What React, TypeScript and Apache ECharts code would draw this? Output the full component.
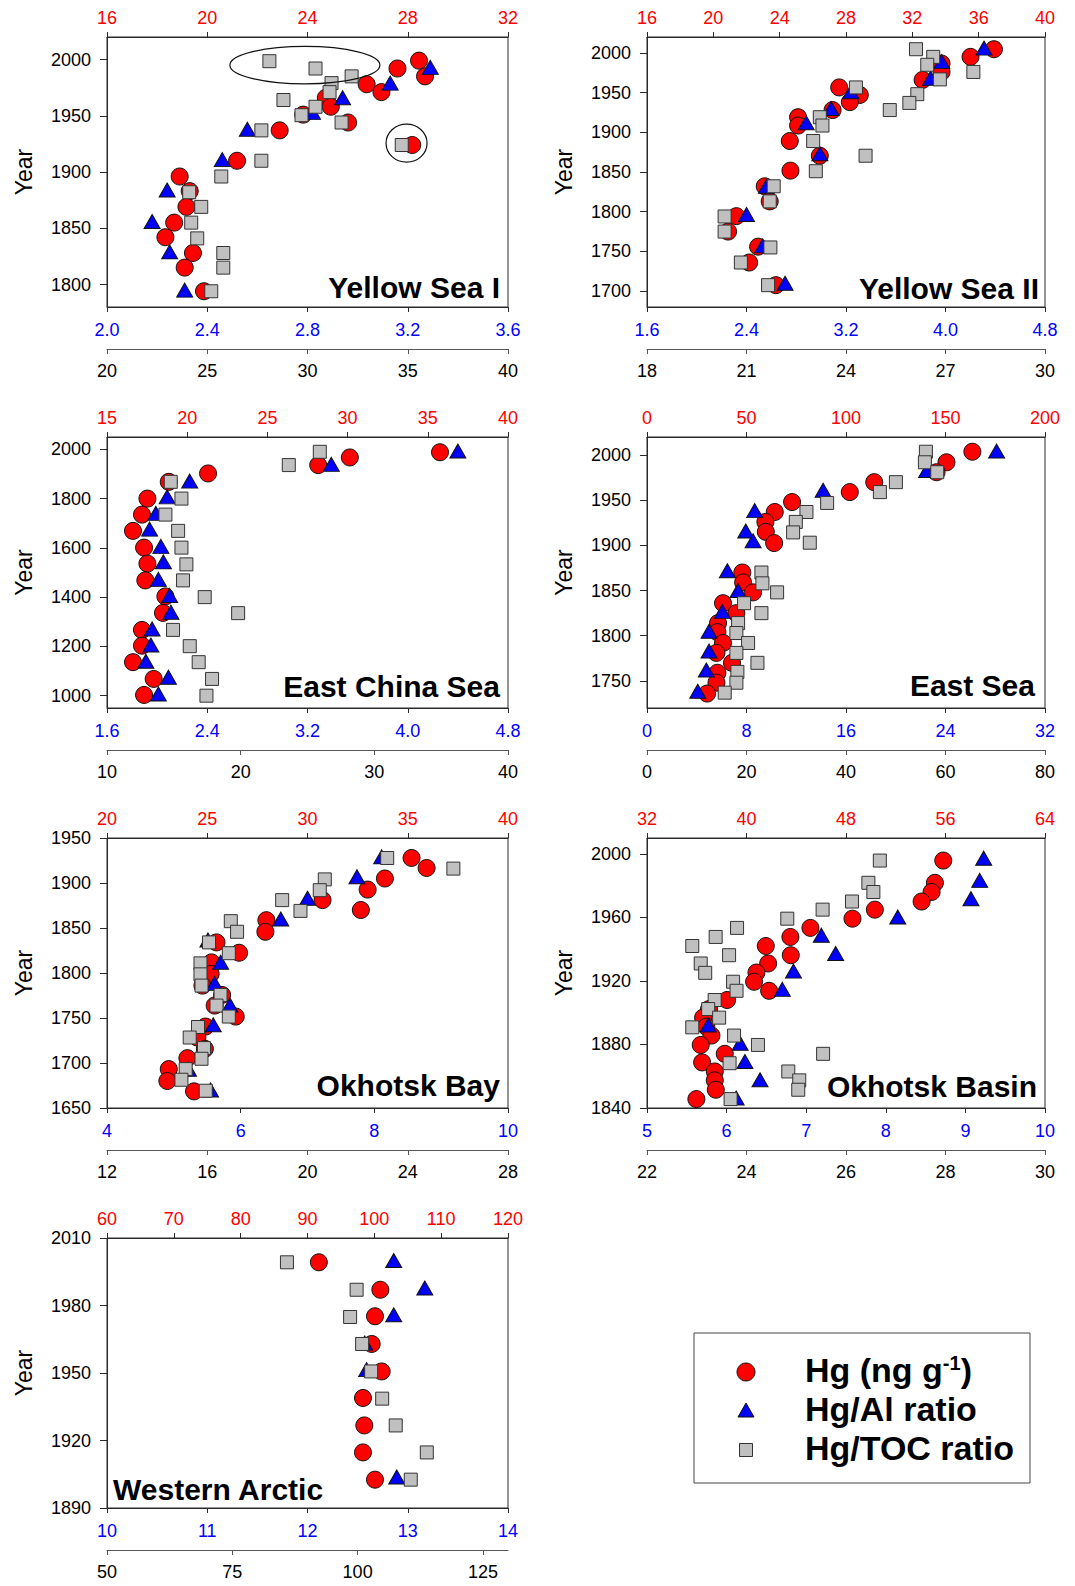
import React, { useEffect, useRef } from "react";
import * as echarts from "echarts";

const FONT = '"Liberation Sans", Arial, Helvetica, sans-serif';
const RED = "#ff0000";
const BLUE = "#0000ff";
const GRAY = "#c0c0c0";
const AXIS_COLOR = "#2a2a2a";

// ---------- Panel names ----------
const PANEL_NAMES = [
  "Yellow Sea I",
  "Yellow Sea II",
  "East China Sea",
  "East Sea",
  "Okhotsk Bay",
  "Okhotsk Basin",
  "Western Arctic",
];

// ---------- Axis ranges [min, max, step] ----------
const HG_RANGE = [[16, 32, 4], [16, 40, 4], [15, 40, 5], [0, 200, 50], [20, 40, 5], [32, 64, 8], [60, 120, 10]];
const AL_RANGE = [[2.0, 3.6, 0.4], [1.6, 4.8, 0.8], [1.6, 4.8, 0.8], [0, 32, 8], [4, 10, 2], [5, 10, 1], [10, 14, 1]];
const AL_DECIMALS = [1, 1, 1, 0, 0, 0, 0];
const TOC_RANGE = [[20, 40, 5], [18, 30, 3], [10, 40, 10], [0, 80, 20], [12, 28, 4], [22, 30, 2], [50, 130, 25]];
const YEAR_RANGE = [[1780, 2020], [1680, 2020], [950, 2050], [1720, 2020], [1650, 1950], [1840, 2010], [1890, 2010]];
const YEAR_TICKS = [
  [1800, 1850, 1900, 1950, 2000],
  [1700, 1750, 1800, 1850, 1900, 1950, 2000],
  [1000, 1200, 1400, 1600, 1800, 2000],
  [1750, 1800, 1850, 1900, 1950, 2000],
  [1650, 1700, 1750, 1800, 1850, 1900, 1950],
  [1840, 1880, 1920, 1960, 2000],
  [1890, 1920, 1950, 1980, 2010],
];

// ---------- Data: [value, year] ----------
const ys1Hg = [[28.45, 1999], [28.69, 1985], [27.59, 1992], [26.36, 1978], [26.95, 1971], [24.73, 1966], [24.93, 1958], [23.83, 1951], [25.62, 1944], [22.89, 1937], [28.18, 1924], [21.19, 1910], [18.9, 1896], [19.3, 1883], [19.17, 1869], [18.68, 1855], [18.33, 1842], [19.43, 1828], [19.1, 1815], [19.87, 1794]];
const ys1Al = [[3.29, 1993], [3.13, 1979], [2.94, 1966], [2.82, 1953], [2.56, 1938], [2.46, 1911], [2.24, 1884], [2.18, 1856], [2.25, 1829], [2.31, 1795]];
const ys1Toc = [[28.1, 1998.5], [30.4, 1992], [32.2, 1985], [31.2, 1979], [31.1, 1971], [28.8, 1964], [30.4, 1958], [29.7, 1950.5], [31.7, 1944], [27.7, 1937], [34.7, 1924], [27.7, 1910], [25.7, 1896], [24.1, 1882], [24.7, 1869], [24.2, 1855], [24.5, 1841], [25.8, 1828], [25.8, 1815], [25.2, 1794]];

const ys2Hg = [[36.92, 2004.6], [35.51, 1995], [33.76, 1986.6], [33.76, 1976], [32.62, 1966], [27.59, 1956.5], [28.83, 1947], [28.23, 1938], [27.19, 1928], [25.11, 1919], [25.11, 1908.5], [24.61, 1889], [26.42, 1870.5], [24.65, 1851.7], [23.1, 1832], [23.4, 1813], [21.39, 1794.4], [20.89, 1775], [22.7, 1756], [22.16, 1736], [23.77, 1707.5]];
const ys2Al = [[4.31, 2006], [3.97, 1989], [3.88, 1968], [3.24, 1951], [3.08, 1930], [2.88, 1912], [2.99, 1873], [2.56, 1832], [2.4, 1796.5], [2.53, 1757], [2.71, 1710]];
const ys2Toc = [[26.11, 2004.6], [26.63, 1995], [26.45, 1985], [26.83, 1966.6], [27.84, 1976], [24.3, 1956.5], [26.15, 1948], [25.91, 1937], [25.32, 1928], [23.21, 1919], [23.29, 1908.5], [23.01, 1889], [24.59, 1870.5], [23.09, 1851], [21.82, 1832], [21.7, 1813], [20.34, 1794], [20.34, 1775], [21.72, 1755], [20.83, 1736], [21.65, 1707.5]];

const ecsHg = [[35.76, 1988], [30.14, 1967], [28.17, 1936], [21.3, 1902], [18.85, 1868], [17.52, 1800], [17.18, 1735], [16.62, 1669], [17.31, 1601], [17.52, 1536], [17.39, 1468], [18.64, 1403], [18.49, 1336], [17.18, 1267], [17.18, 1203], [16.62, 1136], [17.91, 1068], [17.31, 1003]];
const ecsAl = [[4.4, 1993], [3.39, 1939], [2.26, 1871], [2.08, 1807], [1.99, 1740], [1.94, 1676], [2.03, 1606], [2.05, 1543], [2.01, 1472], [2.1, 1407], [2.11, 1339], [1.96, 1271], [1.95, 1206], [1.91, 1140], [2.09, 1075], [2.01, 1007]];
const ecsToc = [[25.92, 1990], [23.6, 1936], [14.77, 1868], [15.57, 1800], [14.37, 1735], [15.32, 1669], [15.57, 1601], [15.94, 1533], [15.69, 1468], [17.31, 1400], [19.81, 1335], [14.94, 1267], [16.19, 1201], [16.86, 1136], [17.86, 1068], [17.44, 1000]];

const esHg = [[163.5, 2003.7], [150.5, 1992], [145.5, 1981], [114.2, 1970], [101.9, 1959], [72.9, 1948], [64.2, 1937], [59.5, 1926], [59.7, 1915], [63.9, 1902.6], [47.9, 1870], [48.3, 1859], [53.3, 1848], [38.2, 1836], [44.9, 1825], [35.7, 1814], [35.4, 1804], [38.2, 1792], [34.9, 1781], [42.7, 1770], [35.4, 1759], [34.9, 1748], [30.2, 1736]];
const esAl = [[28.11, 2004.4], [22.48, 1983], [14.16, 1961], [8.66, 1938.5], [7.94, 1916], [8.53, 1905], [6.46, 1872], [7.32, 1850], [6.06, 1827], [4.99, 1805], [4.99, 1783], [4.77, 1762], [4.08, 1738.5]];
const esToc = [[56.06, 2003.7], [55.86, 1992], [58.34, 1981], [50.03, 1970], [46.81, 1959], [36.21, 1947], [32.05, 1937], [29.91, 1926], [29.37, 1914.4], [32.72, 1903], [23.0, 1870], [23.2, 1858], [26.15, 1848], [19.51, 1836], [23.0, 1825], [18.31, 1814], [17.97, 1803], [20.32, 1792], [17.97, 1781], [22.2, 1770], [18.17, 1760], [17.97, 1748], [15.62, 1737]];

const obHg = [[35.19, 1927.8], [35.94, 1916.7], [33.86, 1905], [33.0, 1892.7], [30.75, 1881], [32.66, 1870], [27.95, 1858.7], [27.9, 1845.8], [25.46, 1834], [26.59, 1822.5], [25.21, 1811.8], [25.17, 1799], [24.76, 1786], [25.74, 1775.6], [25.37, 1763.8], [26.42, 1751.6], [24.91, 1740.5], [24.51, 1728.3], [24.88, 1715.8], [24.01, 1705.4], [23.08, 1693.2], [23.01, 1680], [24.34, 1668.5]];
const obAl = [[8.11, 1929], [7.74, 1907], [7.0, 1883], [6.6, 1860], [5.51, 1836.6], [5.7, 1812], [5.61, 1788.5], [5.84, 1764.5], [5.59, 1742.4], [5.22, 1693], [5.55, 1670]];
const obToc = [[23.18, 1927.8], [25.82, 1916], [20.69, 1904], [20.49, 1892], [18.99, 1881], [19.72, 1869], [16.94, 1857.6], [17.19, 1845.8], [16.07, 1834], [16.86, 1822], [15.73, 1810.7], [15.73, 1798.5], [15.77, 1786], [16.53, 1775.6], [16.37, 1763.8], [16.86, 1751.6], [15.63, 1740], [15.3, 1728.3], [15.87, 1716.5], [15.77, 1704.7], [15.14, 1693.2], [14.97, 1681.4], [15.94, 1669.2]];

const obsHg = [[55.82, 1995.8], [55.15, 1981.8], [54.88, 1976], [54.08, 1970], [50.32, 1964.9], [48.52, 1959.2], [45.14, 1953.4], [43.53, 1947.7], [41.55, 1942], [43.56, 1936.2], [41.74, 1931], [40.8, 1925.3], [40.61, 1919.5], [41.82, 1913.8], [38.44, 1908], [36.99, 1902.3], [36.51, 1896.9], [36.77, 1891.2], [37.18, 1885.6], [36.32, 1879.7], [38.25, 1874.1], [36.43, 1868.7], [37.45, 1863], [37.45, 1857.4], [37.53, 1851.5], [35.97, 1845.6]];
const obsAl = [[9.23, 1997.3], [9.18, 1983.3], [9.07, 1971.8], [8.15, 1960.3], [7.19, 1948.8], [7.37, 1937.3], [6.84, 1926.2], [6.7, 1914.7], [5.77, 1892.3], [6.17, 1880.8], [6.23, 1869.3], [6.42, 1857.8], [6.12, 1846.3]];
const obsToc = [[26.68, 1995.8], [26.45, 1981.8], [26.55, 1976], [26.12, 1970], [25.53, 1964.9], [24.82, 1959.2], [23.81, 1953.4], [23.38, 1947.7], [22.91, 1942], [23.65, 1936.2], [23.08, 1931], [23.17, 1925.1], [23.73, 1919.5], [23.8, 1913.8], [23.36, 1908], [23.23, 1902.3], [23.45, 1896.9], [22.91, 1890.8], [23.75, 1885.6], [24.23, 1879.7], [25.54, 1874.1], [23.66, 1868.2], [24.84, 1863], [25.06, 1857.4], [25.04, 1851.5], [23.68, 1845.6]];

const waHg = [[91.7, 1999.2], [100.9, 1987], [100.1, 1975.2], [99.6, 1962.9], [101.1, 1950.7], [98.3, 1938.9], [98.5, 1926.7], [98.3, 1914.7], [100.1, 1902.6]];
const waAl = [[12.86, 2000], [13.17, 1987.8], [12.86, 1975.9], [12.57, 1963.3], [12.59, 1951.5], [12.89, 1903.8]];
const waToc = [[85.9, 1999.2], [99.8, 1987], [98.5, 1974.9], [100.9, 1962.9], [102.7, 1950.7], [104.9, 1938.6], [107.6, 1926.7], [113.8, 1914.7], [110.6, 1902.6]];

const HG_DATA = [ys1Hg, ys2Hg, ecsHg, esHg, obHg, obsHg, waHg];
const AL_DATA = [ys1Al, ys2Al, ecsAl, esAl, obAl, obsAl, waAl];
const TOC_DATA = [ys1Toc, ys2Toc, ecsToc, esToc, obToc, obsToc, waToc];

// Annotation ellipses on Yellow Sea I (Hg/TOC axis coordinates) + pixel radii
const ANNOT_CENTERS = [[29.87, 1995], [34.94, 1925.6]];
const ANNOT_RADII = [[75, 18.7], [20.5, 19]];

// ---------- Layout ----------
const COL_X = [107, 647];
const COL_W = [401, 398];
const ROW_Y = [37, 437, 838, 1238];
const ROW_H = [270, 271, 270, 270];
const TITLE_POS = [
  [500, 287.5, "right"],
  [1039, 288.3, "right"],
  [500, 686.7, "right"],
  [1035, 685, "right"],
  [500, 1085, "right"],
  [1037, 1086.7, "right"],
  [113, 1489, "left"],
];

function ticksOf(min: number, max: number, step: number): number[] {
  const out: number[] = [];
  for (let k = 0; min + k * step <= max + 1e-9; k++) {
    out.push(Math.round((min + k * step) * 1e6) / 1e6);
  }
  return out;
}

function makeX(gridIndex: number, range: number[], position: string, color: string, decimals: number, offset: number, labelMargin: number, lineColor: string) {
  const ticks = ticksOf(range[0], range[1], range[2]);
  return {
    type: "value",
    gridIndex,
    position,
    offset,
    min: range[0],
    max: range[1],
    axisLine: { show: true, onZero: false, lineStyle: { color: lineColor, width: 1 } },
    axisTick: { show: true, inside: false, length: 5, customValues: ticks, lineStyle: { color: lineColor } },
    axisLabel: {
      show: true,
      customValues: ticks,
      color,
      fontSize: 18,
      fontFamily: FONT,
      margin: labelMargin,
      formatter: (v: number) => v.toFixed(decimals),
    },
    splitLine: { show: false },
  };
}

function buildOption() {
  const grid: any[] = [];
  const xAxis: any[] = [];
  const yAxis: any[] = [];
  const series: any[] = [];
  PANEL_NAMES.forEach((name, i) => {
    const col = i % 2;
    const row = Math.floor(i / 2);
    grid.push({
      left: COL_X[col],
      top: ROW_Y[row],
      width: COL_W[col],
      height: ROW_H[row],
      show: true,
      borderColor: AXIS_COLOR,
      borderWidth: 1,
      backgroundColor: "transparent",
    });
    xAxis.push(makeX(i, HG_RANGE[i], "top", RED, 0, 0, 10, AXIS_COLOR));
    xAxis.push(makeX(i, AL_RANGE[i], "bottom", BLUE, AL_DECIMALS[i], 0, 14, AXIS_COLOR));
    xAxis.push(makeX(i, TOC_RANGE[i], "bottom", "#000", 0, 42, 13, "#555"));
    yAxis.push({
      type: "value",
      gridIndex: i,
      min: YEAR_RANGE[i][0],
      max: YEAR_RANGE[i][1],
      name: "Year",
      nameLocation: "middle",
      nameGap: 72,
      nameTextStyle: { fontSize: 23, fontFamily: FONT, color: "#000" },
      axisLine: { show: true, onZero: false, lineStyle: { color: AXIS_COLOR } },
      axisTick: { show: true, length: 7, customValues: YEAR_TICKS[i], lineStyle: { color: AXIS_COLOR } },
      axisLabel: {
        customValues: YEAR_TICKS[i],
        fontSize: 18,
        fontFamily: FONT,
        color: "#000",
        margin: 16,
        formatter: (v: number) => String(Math.round(v)),
      },
      splitLine: { show: false },
    });
    series.push({
      name: "Hg (ng g-1) " + name,
      type: "scatter",
      xAxisIndex: 3 * i,
      yAxisIndex: i,
      data: HG_DATA[i],
      symbol: "circle",
      symbolSize: 17,
      z: 2,
      silent: true,
      itemStyle: { color: RED, borderColor: "#111", borderWidth: 1, opacity: 1 },
    });
    series.push({
      name: "Hg/Al ratio " + name,
      type: "scatter",
      xAxisIndex: 3 * i + 1,
      yAxisIndex: i,
      data: AL_DATA[i],
      symbol: "triangle",
      symbolSize: [16, 14],
      z: 3,
      silent: true,
      itemStyle: { color: BLUE, borderColor: "#111", borderWidth: 1, opacity: 1 },
    });
    series.push({
      name: "Hg/TOC ratio " + name,
      type: "scatter",
      xAxisIndex: 3 * i + 2,
      yAxisIndex: i,
      data: TOC_DATA[i],
      symbol: "rect",
      symbolSize: 13,
      z: 4,
      silent: true,
      itemStyle: { color: GRAY, borderColor: "#333", borderWidth: 1, opacity: 1 },
    });
  });
  return {
    animation: false,
    backgroundColor: "#ffffff",
    grid,
    xAxis,
    yAxis,
    series,
  };
}

function buildGraphic(chart: any) {
  const g: any[] = [];
  PANEL_NAMES.forEach((name, i) => {
    const p = TITLE_POS[i];
    g.push({
      type: "text",
      x: p[0],
      y: p[1],
      z: 50,
      style: {
        text: name,
        fill: "#000",
        font: `bold 30px ${FONT}`,
        align: p[2],
        verticalAlign: "middle",
      },
    });
  });
  ANNOT_CENTERS.forEach((c, k) => {
    const px = chart.convertToPixel({ seriesIndex: 2 }, c);
    g.push({
      type: "ellipse",
      z: 60,
      shape: { cx: px[0], cy: px[1], rx: ANNOT_RADII[k][0], ry: ANNOT_RADII[k][1] },
      style: { fill: "none", stroke: "#111", lineWidth: 1.2 },
    });
  });
  // Legend
  g.push({
    type: "rect",
    shape: { x: 694, y: 1333, width: 336, height: 150 },
    style: { fill: "#fff", stroke: "#444", lineWidth: 1 },
    z: 10,
  });
  g.push({ type: "circle", z: 11, shape: { cx: 746, cy: 1372, r: 9 }, style: { fill: RED, stroke: "#111", lineWidth: 1 } });
  g.push({
    type: "polygon",
    z: 11,
    shape: { points: [[746, 1403], [738, 1417], [754, 1417]] },
    style: { fill: BLUE, stroke: "#111", lineWidth: 1 },
  });
  g.push({ type: "rect", z: 11, shape: { x: 739.5, y: 1443.5, width: 13, height: 13 }, style: { fill: GRAY, stroke: "#333", lineWidth: 1 } });
  g.push({
    type: "text",
    z: 11,
    x: 805,
    y: 1370,
    style: {
      text: "{a|Hg (ng g}{s|-1}{a|)}",
      fill: "#000",
      verticalAlign: "middle",
      rich: {
        a: { fontSize: 34, fontWeight: "bold", fontFamily: FONT, fill: "#000" },
        s: { fontSize: 20, fontWeight: "bold", fontFamily: FONT, fill: "#000", verticalAlign: "top" },
      },
    },
  });
  g.push({ type: "text", z: 11, x: 805, y: 1409, style: { text: "Hg/Al ratio", fill: "#000", font: `bold 34px ${FONT}`, verticalAlign: "middle" } });
  g.push({ type: "text", z: 11, x: 805, y: 1448, style: { text: "Hg/TOC ratio", fill: "#000", font: `bold 34px ${FONT}`, verticalAlign: "middle" } });
  return g;
}

export default function App() {
  const ref = useRef<HTMLDivElement>(null);
  useEffect(() => {
    document.body.style.margin = "0";
    if (!ref.current) return;
    const chart = echarts.init(ref.current, undefined, { renderer: "svg", width: 1075, height: 1586 });
    chart.setOption(buildOption() as any);
    chart.setOption({ graphic: buildGraphic(chart) } as any);
    return () => chart.dispose();
  }, []);
  return (
    <div
      ref={ref}
      style={{ position: "absolute", left: 0, top: 0, width: 1075, height: 1586, background: "#fff" }}
    />
  );
}
